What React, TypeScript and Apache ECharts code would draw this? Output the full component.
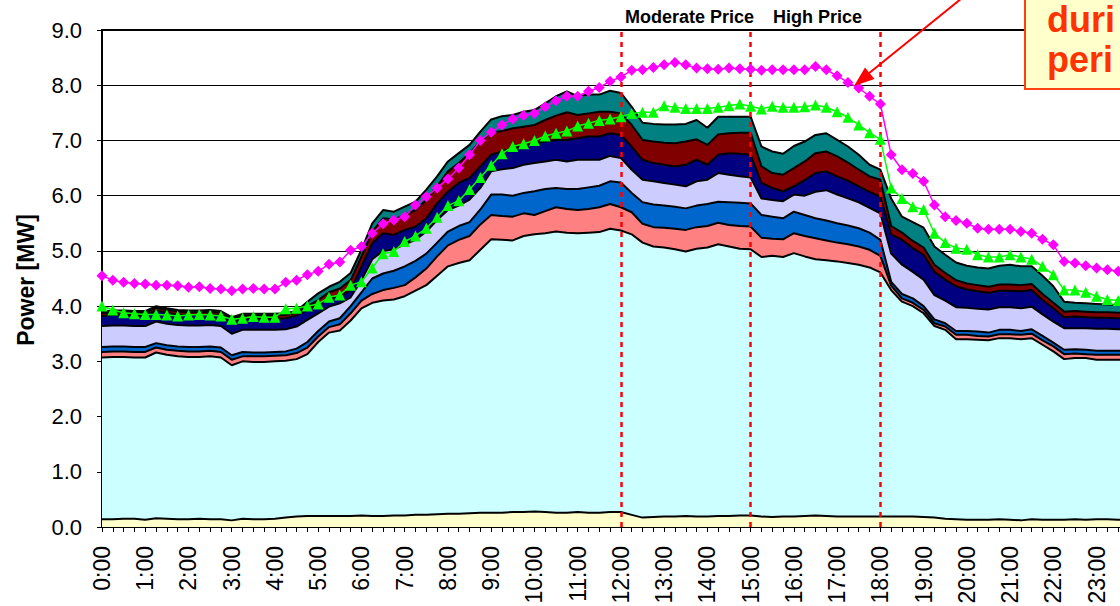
import React, { useEffect, useRef } from "react";
import * as echarts from "echarts";

// 15-minute time slots 0:00 .. 23:45
const categories: string[] = [];
for (let h = 0; h < 24; h++) {
  for (const m of ["00", "15", "30", "45"]) categories.push(`${h}:${m}`);
}

// Cumulative tops of the stacked load layers (MW)
const cumYellow = [
  0.14, 0.14, 0.15, 0.15, 0.13, 0.16, 0.15, 0.14, 0.14, 0.15, 0.14, 0.14, 0.12, 0.15, 0.14, 0.14, 0.15, 0.17,
  0.19, 0.2, 0.2, 0.2, 0.2, 0.2, 0.21, 0.2, 0.2, 0.21, 0.21, 0.22, 0.22, 0.23, 0.24, 0.24, 0.25, 0.26,
  0.26, 0.26, 0.27, 0.27, 0.28, 0.27, 0.26, 0.26, 0.27, 0.26, 0.26, 0.27, 0.27, 0.22, 0.17, 0.18, 0.19, 0.19,
  0.2, 0.19, 0.19, 0.2, 0.2, 0.21, 0.21, 0.19, 0.18, 0.19, 0.19, 0.2, 0.21, 0.2, 0.19, 0.19, 0.19, 0.19,
  0.19, 0.19, 0.19, 0.19, 0.18, 0.17, 0.15, 0.14, 0.13, 0.13, 0.13, 0.14, 0.13, 0.12, 0.14, 0.13, 0.13, 0.13, 0.14, 0.13, 0.14, 0.14, 0.13, 0.14,
];
const cumCyan = [
  3.07, 3.08, 3.08, 3.07, 3.07, 3.16, 3.12, 3.09, 3.08, 3.08, 3.09, 3.07, 2.93, 3.0, 2.99, 2.99, 3.0, 3.01,
  3.04, 3.13, 3.35, 3.52, 3.56, 3.74, 3.96, 4.06, 4.1, 4.12, 4.18, 4.28, 4.38, 4.55, 4.72, 4.78, 4.83, 5.02,
  5.21, 5.2, 5.19, 5.27, 5.3, 5.32, 5.35, 5.33, 5.32, 5.33, 5.34, 5.4, 5.37, 5.3, 5.15, 5.08, 5.06, 5.03,
  4.99, 5.04, 5.06, 5.12, 5.08, 5.04, 5.03, 4.89, 4.91, 4.89, 4.96, 4.9, 4.85, 4.83, 4.81, 4.78, 4.75, 4.7,
  4.61, 4.29, 4.08, 4.0, 3.87, 3.64, 3.57, 3.4, 3.4, 3.39, 3.38, 3.42, 3.42, 3.4, 3.42, 3.3, 3.18, 3.04, 3.06, 3.06, 3.03, 3.03, 3.03, 3.03,
];
const cumSalmon = [
  3.17, 3.18, 3.18, 3.17, 3.17, 3.25, 3.21, 3.19, 3.18, 3.18, 3.19, 3.17, 3.03, 3.09, 3.09, 3.09, 3.1, 3.11,
  3.15, 3.25, 3.45, 3.62, 3.67, 3.87, 4.1, 4.22, 4.29, 4.33, 4.38, 4.52, 4.68, 4.9, 5.1, 5.2, 5.27, 5.48,
  5.65, 5.63, 5.62, 5.68, 5.65, 5.72, 5.79, 5.76, 5.74, 5.76, 5.79, 5.85, 5.79, 5.7, 5.49, 5.43, 5.42, 5.4,
  5.38, 5.43, 5.45, 5.51, 5.47, 5.45, 5.44, 5.24, 5.22, 5.21, 5.32, 5.27, 5.23, 5.19, 5.15, 5.12, 5.08, 5.02,
  4.91, 4.37, 4.14, 4.06, 3.93, 3.69, 3.63, 3.48, 3.48, 3.46, 3.45, 3.49, 3.49, 3.48, 3.5, 3.38, 3.27, 3.13, 3.14, 3.13, 3.12, 3.12, 3.12, 3.12,
];
const cumBlue = [
  3.26, 3.27, 3.27, 3.26, 3.26, 3.33, 3.29, 3.27, 3.26, 3.26, 3.27, 3.25, 3.11, 3.17, 3.16, 3.16, 3.17, 3.18,
  3.23, 3.35, 3.55, 3.72, 3.78, 4.0, 4.25, 4.5, 4.59, 4.64, 4.72, 4.82, 4.95, 5.15, 5.35, 5.45, 5.52, 5.75,
  6.02, 6.02, 6.0, 6.05, 6.08, 6.12, 6.14, 6.12, 6.12, 6.15, 6.18, 6.26, 6.24, 6.05, 5.88, 5.84, 5.82, 5.8,
  5.77, 5.82, 5.85, 5.89, 5.88, 5.87, 5.86, 5.65, 5.62, 5.59, 5.71, 5.65, 5.59, 5.55, 5.5, 5.46, 5.41, 5.33,
  5.2, 4.44, 4.22, 4.14, 4.0, 3.76, 3.69, 3.55, 3.55, 3.54, 3.52, 3.57, 3.57, 3.55, 3.58, 3.46, 3.34, 3.21, 3.22, 3.21, 3.19, 3.19, 3.19, 3.19,
];
const cumLavender = [
  3.64, 3.65, 3.65, 3.64, 3.64, 3.72, 3.68, 3.66, 3.65, 3.65, 3.66, 3.64, 3.5, 3.57, 3.57, 3.57, 3.57, 3.58,
  3.63, 3.75, 3.87, 3.99, 4.05, 4.16, 4.47, 4.85, 5.0, 5.03, 5.12, 5.2, 5.35, 5.56, 5.74, 5.82, 5.93, 6.14,
  6.44, 6.48, 6.5, 6.56, 6.59, 6.62, 6.65, 6.62, 6.65, 6.65, 6.65, 6.72, 6.68, 6.47, 6.29, 6.26, 6.23, 6.2,
  6.17, 6.26, 6.29, 6.41, 6.38, 6.35, 6.33, 5.95, 5.92, 5.9, 6.02, 6.0, 6.07, 6.1, 6.02, 5.95, 5.88, 5.78,
  5.68, 4.95, 4.75, 4.62, 4.48, 4.2, 4.1, 3.98, 3.97, 3.95, 3.94, 3.98, 3.98, 3.96, 3.99, 3.85, 3.72, 3.6, 3.6, 3.6, 3.59, 3.59, 3.58, 3.58,
];
const cumNavy = [
  3.82, 3.84, 3.84, 3.83, 3.83, 3.92, 3.88, 3.85, 3.84, 3.84, 3.85, 3.83, 3.7, 3.78, 3.77, 3.77, 3.77, 3.78,
  3.83, 3.93, 4.02, 4.14, 4.17, 4.29, 4.72, 5.14, 5.32, 5.29, 5.38, 5.44, 5.59, 5.86, 6.07, 6.23, 6.32, 6.53,
  6.74, 6.8, 6.86, 6.89, 6.95, 6.98, 7.01, 7.01, 7.04, 7.07, 7.07, 7.13, 7.1, 6.89, 6.65, 6.59, 6.56, 6.53,
  6.56, 6.65, 6.56, 6.74, 6.77, 6.76, 6.74, 6.23, 6.14, 6.08, 6.17, 6.28, 6.41, 6.44, 6.35, 6.27, 6.17, 6.07,
  5.98, 5.3, 5.2, 5.05, 4.93, 4.62, 4.48, 4.36, 4.3, 4.27, 4.24, 4.28, 4.28, 4.27, 4.29, 4.11, 3.96, 3.8, 3.81, 3.8, 3.79, 3.79, 3.78, 3.78,
];
const cumDarkRed = [
  3.87, 3.89, 3.89, 3.88, 3.88, 3.97, 3.93, 3.9, 3.89, 3.89, 3.9, 3.88, 3.77, 3.83, 3.83, 3.83, 3.83, 3.84,
  3.88, 4.0, 4.11, 4.25, 4.32, 4.47, 4.9, 5.35, 5.59, 5.57, 5.65, 5.74, 5.92, 6.17, 6.44, 6.59, 6.77, 6.98,
  7.14, 7.17, 7.22, 7.25, 7.28, 7.37, 7.45, 7.51, 7.46, 7.49, 7.52, 7.52, 7.49, 7.28, 7.01, 6.98, 6.96, 6.95,
  6.98, 7.02, 6.92, 7.11, 7.13, 7.14, 7.14, 6.53, 6.41, 6.38, 6.5, 6.62, 6.77, 6.8, 6.71, 6.6, 6.47, 6.35,
  6.29, 5.45, 5.33, 5.18, 5.06, 4.75, 4.6, 4.47, 4.41, 4.38, 4.35, 4.39, 4.39, 4.38, 4.4, 4.22, 4.06, 3.9, 3.91, 3.9, 3.89, 3.89, 3.88, 3.88,
];
const cumTeal = [
  3.9, 3.92, 3.92, 3.91, 3.91, 4.0, 3.96, 3.93, 3.92, 3.92, 3.93, 3.91, 3.8, 3.86, 3.86, 3.86, 3.86, 3.87,
  3.91, 4.08, 4.23, 4.35, 4.44, 4.6, 5.02, 5.5, 5.74, 5.71, 5.8, 5.89, 6.11, 6.35, 6.62, 6.77, 6.92, 7.16,
  7.38, 7.44, 7.46, 7.52, 7.55, 7.67, 7.8, 7.89, 7.8, 7.83, 7.83, 7.9, 7.86, 7.61, 7.32, 7.3, 7.29, 7.29,
  7.3, 7.37, 7.23, 7.43, 7.43, 7.43, 7.43, 6.89, 6.8, 6.76, 6.9, 6.98, 7.1, 7.13, 7.01, 6.89, 6.74, 6.56,
  6.47, 5.95, 5.62, 5.52, 5.42, 5.08, 4.93, 4.79, 4.73, 4.7, 4.68, 4.73, 4.75, 4.72, 4.72, 4.55, 4.36, 4.08, 4.06, 4.05, 4.04, 4.03, 4.02, 4.02,
];

// Line series (MW)
const magentaLine = [
  4.55, 4.47, 4.43, 4.41, 4.4, 4.38, 4.38, 4.37, 4.34, 4.35, 4.32, 4.31, 4.28, 4.31, 4.32, 4.31, 4.31, 4.43,
  4.47, 4.57, 4.63, 4.76, 4.8, 5.01, 5.08, 5.32, 5.49, 5.56,
  5.62, 5.83, 5.98, 6.14, 6.3, 6.5, 6.74, 7.0,
  7.15, 7.28, 7.39, 7.45, 7.49, 7.61, 7.72, 7.8, 7.8, 7.89, 7.96, 8.07, 8.15,
  8.27, 8.28, 8.32, 8.37, 8.41, 8.37, 8.31, 8.3, 8.29, 8.31, 8.3, 8.29,
  8.27, 8.28, 8.28, 8.28, 8.28, 8.34, 8.28, 8.17, 8.05, 7.95, 7.8, 7.66,
  6.74, 6.47, 6.4, 6.26, 5.83, 5.62, 5.55, 5.5, 5.41, 5.39, 5.39, 5.39, 5.35, 5.32, 5.21, 5.11, 4.81, 4.78, 4.73, 4.69, 4.66, 4.63, 4.6,
];
const greenLine = [
  4.0, 3.93, 3.88, 3.86, 3.85, 3.85, 3.84, 3.82, 3.84, 3.85, 3.84, 3.82, 3.76, 3.78, 3.81, 3.8, 3.8, 3.95,
  3.96, 4.0, 4.04, 4.16, 4.2, 4.38, 4.44, 4.69, 4.95, 4.99,
  5.17, 5.27, 5.41, 5.61, 5.82, 5.91, 6.11, 6.33,
  6.55, 6.76, 6.89, 6.94, 7.0, 7.08, 7.13, 7.17, 7.26, 7.31, 7.36, 7.39, 7.43,
  7.49, 7.51, 7.51, 7.63, 7.6, 7.58, 7.58, 7.58, 7.6, 7.63, 7.66, 7.62,
  7.57, 7.62, 7.6, 7.6, 7.61, 7.64, 7.6, 7.52, 7.42, 7.28, 7.14, 7.02,
  6.14, 5.95, 5.8, 5.75, 5.32, 5.15, 5.05, 5.03, 4.93, 4.89, 4.89, 4.93, 4.89, 4.85, 4.72, 4.57, 4.29, 4.29, 4.25, 4.18, 4.12, 4.1, 4.08,
];

const priceLines = ["12:00", "15:00", "18:00"];
const yMin = 0;
const yMax = 9;
const yStep = 1;

// Visible parts of the callout text (the box runs past the right edge)
const calloutLines = ["duri", "peri"];

const FONT = '"Liberation Sans", Arial, sans-serif';

const layers: [string, number[], string][] = [
  ["Teal", cumTeal, "#008080"],
  ["DarkRed", cumDarkRed, "#800000"],
  ["Navy", cumNavy, "#000080"],
  ["Lavender", cumLavender, "#CCCCFF"],
  ["Blue", cumBlue, "#0066CC"],
  ["Salmon", cumSalmon, "#FF8080"],
  ["Cyan", cumCyan, "#CCFFFF"],
  ["Yellow", cumYellow, "#FFFFCC"],
];

export default function App() {
  const ref = useRef<HTMLDivElement>(null);
  useEffect(() => {
    if (!ref.current) return;
    const chart = echarts.init(ref.current, undefined, { renderer: "svg" });

    const areaSeries = layers.map(([name, data, color], idx) => {
      const s: any = {
        name,
        type: "line",
        data,
        symbol: "none",
        silent: true,
        lineStyle: { color: "#000", width: 2 },
        areaStyle: { color, opacity: 1, origin: "start" },
        z: 2,
      };
      if (idx === layers.length - 1) {
        s.markLine = {
          silent: true,
          symbol: ["none", "none"],
          label: { show: false },
          lineStyle: { color: "#FF0000", type: [5, 5], width: 2.5 },
          data: priceLines.map((c) => ({ xAxis: c })),
        };
      }
      return s;
    });

    const option: any = {
      animation: false,
      backgroundColor: "#ffffff",
      grid: {
        left: 102,
        top: 30,
        width: 1027,
        height: 497,
        outerBoundsMode: "none",
        containLabel: false,
        show: true,
        borderColor: "#000",
        borderWidth: 2,
        backgroundColor: "transparent",
      },
      xAxis: {
        type: "category",
        data: categories,
        boundaryGap: false,
        axisLine: { show: true, lineStyle: { color: "#000", width: 2 } },
        axisTick: { show: true, interval: 0, length: 5, lineStyle: { color: "#000", width: 1 } },
        axisLabel: {
          interval: 3,
          rotate: 90,
          margin: 19,
          fontSize: 23,
          fontFamily: FONT,
          color: "#000",
        },
        splitLine: { show: false },
      },
      yAxis: {
        type: "value",
        min: yMin,
        max: yMax,
        interval: yStep,
        axisLine: { show: true, lineStyle: { color: "#000", width: 2 } },
        axisTick: { show: true, length: 5, lineStyle: { color: "#000", width: 1 } },
        axisLabel: {
          margin: 20,
          fontSize: 22,
          fontFamily: FONT,
          color: "#000",
          formatter: (v: number) => v.toFixed(1),
        },
        splitLine: { show: true, lineStyle: { color: "#000", width: 1 } },
      },
      series: [
        ...areaSeries,
        {
          name: "Magenta",
          type: "line",
          data: magentaLine,
          symbol: "diamond",
          symbolSize: 11,
          showAllSymbol: true,
          lineStyle: { color: "#FF00FF", width: 1.5 },
          itemStyle: { color: "#FF00FF" },
          z: 5,
        },
        {
          name: "Green",
          type: "line",
          data: greenLine,
          symbol: "triangle",
          symbolSize: 11,
          showAllSymbol: true,
          lineStyle: { color: "#00FF00", width: 1.5 },
          itemStyle: { color: "#00FF00" },
          z: 5,
        },
      ],
      graphic: [
        {
          type: "text",
          x: 26,
          y: 280,
          rotation: Math.PI / 2,
          z: 10,
          style: {
            text: "Power [MW]",
            font: `bold 23px ${FONT}`,
            fill: "#000",
            textAlign: "center",
            textVerticalAlign: "middle",
            align: "center",
            verticalAlign: "middle",
          },
        },
        {
          type: "text",
          x: 625,
          y: 17,
          z: 10,
          style: {
            text: "Moderate Price",
            font: `bold 18px ${FONT}`,
            fill: "#000",
            textAlign: "left",
            textVerticalAlign: "middle",
            align: "left",
            verticalAlign: "middle",
          },
        },
        {
          type: "text",
          x: 773,
          y: 17,
          z: 10,
          style: {
            text: "High Price",
            font: `bold 18px ${FONT}`,
            fill: "#000",
            textAlign: "left",
            textVerticalAlign: "middle",
            align: "left",
            verticalAlign: "middle",
          },
        },
        {
          type: "rect",
          z: 20,
          shape: { x: 1025, y: -10, width: 120, height: 99 },
          style: { fill: "#FFFFCC", stroke: "#FF4010", lineWidth: 2 },
        },
        {
          type: "text",
          x: 1047,
          y: 19,
          z: 21,
          style: {
            text: calloutLines[0],
            font: `bold 36px ${FONT}`,
            fill: "#FF3300",
            textAlign: "left",
            textVerticalAlign: "middle",
            align: "left",
            verticalAlign: "middle",
          },
        },
        {
          type: "text",
          x: 1047,
          y: 59,
          z: 21,
          style: {
            text: calloutLines[1],
            font: `bold 36px ${FONT}`,
            fill: "#FF3300",
            textAlign: "left",
            textVerticalAlign: "middle",
            align: "left",
            verticalAlign: "middle",
          },
        },
        {
          type: "line",
          z: 22,
          shape: { x1: 972, y1: -10, x2: 868, y2: 74 },
          style: { stroke: "#FF0000", lineWidth: 2 },
        },
        {
          type: "polygon",
          z: 22,
          shape: { points: [[854, 86], [865, 67.5], [874.5, 79]] },
          style: { fill: "#FF0000" },
        },
      ],
    };
    chart.setOption(option);
    return () => chart.dispose();
  }, []);
  return (
    <div
      ref={ref}
      style={{ position: "fixed", left: 0, top: 0, width: 1120, height: 606, background: "#fff" }}
    />
  );
}
